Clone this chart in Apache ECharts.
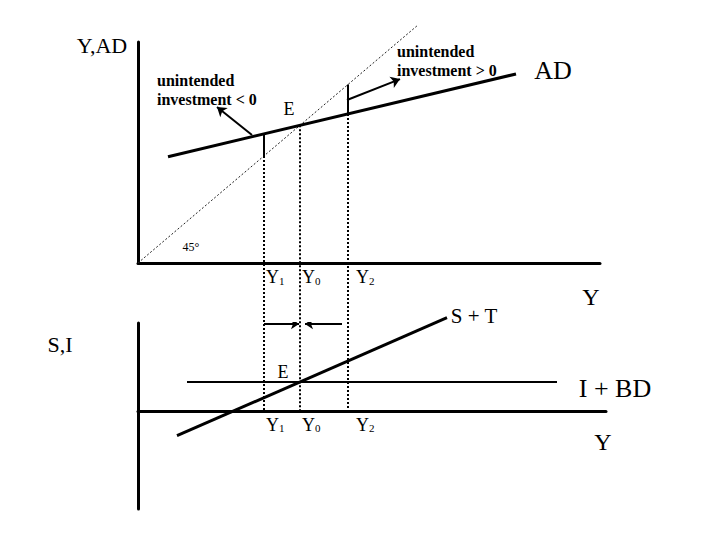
<!DOCTYPE html>
<html><head><meta charset="utf-8">
<style>html,body{margin:0;padding:0;background:#fff}#c{width:720px;height:540px}</style>
<script src="https://cdn.jsdelivr.net/npm/echarts@6/dist/echarts.min.js"></script>
</head><body><div id="c"></div>
<script>
// income levels on the horizontal axes
const Y1 = 63, Y0 = 81, Y2 = 105;
const incomeLevels = [Y1, Y0, Y2];
const incomeSubs = ['1', '0', '2'];
// top panel (Y, AD)
const line45 = [[0, 0], [140, 140]];
const adLine = [[15, 62.5], [189, 111.2]];
const adAtY1 = 75.9, adAtY2 = 87.7;
const lowerAxisInTop = -87.6;
const arrowNeg = [[57, 75.3], [39.5, 91.8]];
const arrowPos = [[104.5, 95.9], [131, 108.2]];
// bottom panel (S, I)
const stLine = [[19.5, -13.6], [154.5, 53]];
const ibdLine = [[24.5, 16.7], [209.5, 16.7]];
const shiftRight = [[63, 49.5], [80.5, 49.5]];
const shiftLeft = [[102, 49.5], [83.5, 49.5]];

const SERIF = "'Liberation Serif', 'Times New Roman', serif";
const K = '#000';

const labelRich = {
  y: {fontSize: 18, fontFamily: SERIF, color: K, verticalAlign: 'bottom', lineHeight: 20},
  s: {fontSize: 11, fontFamily: SERIF, color: K, verticalAlign: 'bottom', lineHeight: 16}
};
function incomeLabels(grid, dy) {
  return {
    type: 'scatter', xAxisIndex: grid, yAxisIndex: grid, symbolSize: 0, silent: true, clip: false,
    itemStyle: {color: K, opacity: 1},
    data: incomeLevels.map((v, i) => ({
      value: [v, 0],
      label: {show: true, position: [i === 2 ? 8 : 2, dy], align: 'left', verticalAlign: 'top',
        color: K, fontSize: 18, fontFamily: SERIF, opacity: 1, textBorderWidth: 0,
        formatter: '{y|Y}{s|' + incomeSubs[i] + '}', rich: labelRich}
    }))
  };
}
function xAx(grid, max) {
  return {
    gridIndex: grid, type: 'value', min: 0, max: max,
    axisLine: {show: true, onZero: true, lineStyle: {color: K, width: 3}},
    axisTick: {show: false}, splitLine: {show: false}, axisLabel: {show: false}
  };
}
function yAx(grid, min, max) {
  return {
    gridIndex: grid, type: 'value', min: min, max: max,
    axisLine: {show: true, onZero: false, lineStyle: {color: K, width: 3}},
    axisTick: {show: false}, splitLine: {show: false}, axisLabel: {show: false}
  };
}
function seg(data, grid, style) {
  return {type: 'line', xAxisIndex: grid, yAxisIndex: grid, data: data, showSymbol: false,
    symbol: 'none', clip: false, lineStyle: style, silent: true};
}
const dotted = {color: K, width: 2, type: 'dotted'};
const solid3 = {color: K, width: 3};
const solid2 = {color: K, width: 2};

function arrow(coords, grid, size) {
  return {type: 'lines', coordinateSystem: 'cartesian2d', xAxisIndex: grid, yAxisIndex: grid,
    symbol: ['none', 'arrow'], symbolSize: size, silent: true,
    lineStyle: {color: K, width: 2, opacity: 1}, data: [{coords: coords}]};
}
function txt(text, x, y, size, opts) {
  opts = opts || {};
  return {type: 'text', x: x, y: y, silent: true,
    style: {text: text, fill: K, fontSize: size, fontFamily: SERIF, fontWeight: opts.bold ? 'bold' : 'normal',
      align: opts.align || 'center', verticalAlign: 'middle'}};
}

const chart = echarts.init(document.getElementById('c'), null, {renderer: 'svg', width: 720, height: 540});
chart.setOption({
  animation: false,
  backgroundColor: '#fff',
  grid: [
    {left: 138, top: 42, width: 462, height: 221, containLabel: false},
    {left: 138, top: 323, width: 468, height: 186, containLabel: false}
  ],
  xAxis: [xAx(0, 231), xAx(1, 234)],
  yAxis: [yAx(0, 0, 130), yAx(1, -55, 50)],
  series: [
    seg(line45, 0, {color: '#222', width: 1, type: [2, 2]}),
    seg(adLine, 0, solid3),
    seg([[Y1, Y1], [Y1, adAtY1]], 0, solid2),
    seg([[Y2, adAtY2], [Y2, Y2]], 0, solid2),
    seg([[Y1, Y1], [Y1, lowerAxisInTop]], 0, dotted),
    seg([[Y0, Y0], [Y0, lowerAxisInTop]], 0, dotted),
    seg([[Y2, adAtY2], [Y2, lowerAxisInTop]], 0, dotted),
    arrow(arrowNeg, 0, 9),
    arrow(arrowPos, 0, 9),
    incomeLabels(0, 3),
    seg(stLine, 1, solid3),
    seg(ibdLine, 1, solid2),
    arrow(shiftRight, 1, 8),
    arrow(shiftLeft, 1, 8),
    incomeLabels(1, 2)
  ],
  graphic: [
    txt('Y,AD', 102, 45, 22),
    txt('unintended', 157, 80, 16, {bold: true, align: 'left'}),
    txt('investment < 0', 157, 99, 16, {bold: true, align: 'left'}),
    txt('unintended', 397, 51, 16, {bold: true, align: 'left'}),
    txt('investment > 0', 397, 70, 16, {bold: true, align: 'left'}),
    txt('AD', 553, 70, 26),
    txt('E', 289, 109, 18),
    txt('45°', 191, 247, 12),
    txt('Y', 591, 297, 24),
    txt('S + T', 474, 316, 21),
    txt('I + BD', 615, 388, 26),
    txt('Y', 603, 442, 24),
    txt('S,I', 60, 344, 22),
    txt('E', 283, 372, 18)
  ]
});
</script></body></html>
